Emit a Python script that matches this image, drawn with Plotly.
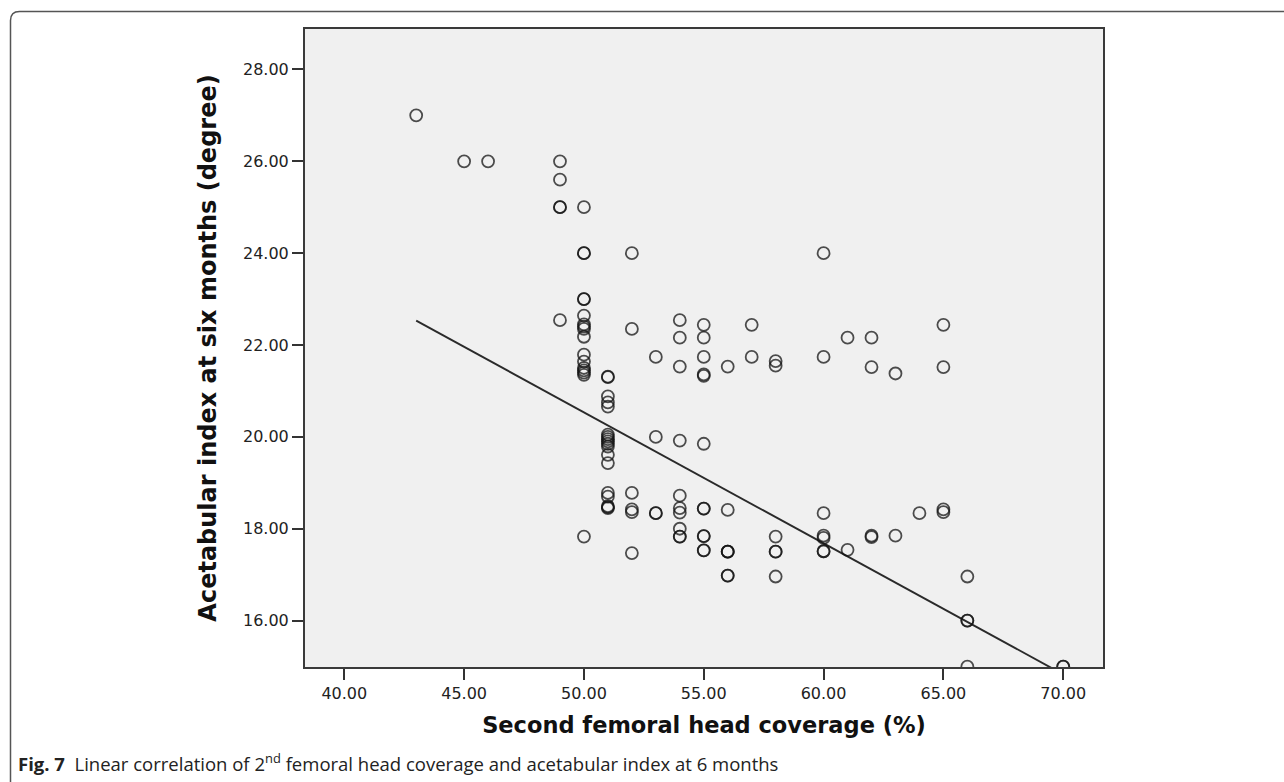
import plotly.graph_objects as go

# ---- data ----
coverage = (
    [43] + [45] + [46]
    + [49] * 5
    + [50] * 17
    + [51] * 18
    + [52] * 6
    + [53] * 4
    + [54] * 10
    + [55] * 12
    + [56] * 7
    + [57] * 2
    + [58] * 6
    + [60] * 7
    + [61] * 2
    + [62] * 4
    + [63] * 2
    + [64] * 1
    + [65] * 4
    + [66] * 4
    + [70] * 2
)
acetabular_index = (
    [27.0] + [26.0] + [26.0]
    + [26.0, 25.6, 25.0, 25.0, 22.54]
    + [25.0, 24.0, 24.0, 23.0, 23.0, 22.64, 22.45, 22.4, 22.35, 22.18,
       21.79, 21.64, 21.5, 21.45, 21.4, 21.35, 17.83]
    + [21.31, 21.3, 20.88, 20.75, 20.66, 20.05, 20.0, 19.95, 19.9, 19.85,
       19.79, 19.61, 19.43, 18.78, 18.7, 18.49, 18.47, 18.45]
    + [24.0, 22.35, 18.78, 18.42, 18.36, 17.47]
    + [21.74, 20.0, 18.34, 18.34]
    + [22.54, 22.16, 21.53, 19.92, 18.72, 18.45, 18.35, 18.0, 17.83, 17.83]
    + [22.44, 22.16, 21.74, 21.36, 21.33, 19.85, 18.44, 18.44, 17.84, 17.84, 17.53, 17.53]
    + [21.53, 18.41, 17.5, 17.5, 17.5, 16.98, 16.98]
    + [22.44, 21.74]
    + [21.65, 21.55, 17.83, 17.5, 17.5, 16.96]
    + [24.0, 21.74, 18.34, 17.85, 17.8, 17.51, 17.51]
    + [22.16, 17.54]
    + [22.16, 21.52, 17.85, 17.82]
    + [21.38, 17.85]
    + [18.34]
    + [22.44, 21.52, 18.42, 18.36]
    + [16.96, 16.0, 16.0, 15.0]
    + [15.0, 15.0]
)
fit_x = [43.0, 70.0]
fit_y = [22.53, 14.83]

x_ticks = [40, 45, 50, 55, 60, 65, 70]
x_tick_labels = ["40.00", "45.00", "50.00", "55.00", "60.00", "65.00", "70.00"]
y_ticks = [16, 18, 20, 22, 24, 26, 28]
y_tick_labels = ["16.00", "18.00", "20.00", "22.00", "24.00", "26.00", "28.00"]

x_title = "Second femoral head coverage (%)"
y_title = "Acetabular index at six months (degree)"
caption = ("<b>Fig. 7</b>  Linear correlation of 2<sup>nd</sup> femoral head coverage "
           "and acetabular index at 6 months")

# ---- figure ----
L, R, T, B = 305, 181, 29, 115
W, H = 1284, 782
pw, ph = W - L - R, H - T - B

def px_x(p):
    return (p - L) / pw

def px_y(p):
    return (H - B - p) / ph

fig = go.Figure()
fig.add_trace(go.Scatter(
    x=fit_x, y=fit_y, mode="lines",
    line=dict(color="#2a2a2a", width=1.9),
    hoverinfo="skip", showlegend=False,
))
fig.add_trace(go.Scatter(
    x=coverage, y=acetabular_index, mode="markers",
    marker=dict(symbol="circle-open", size=12,
                line=dict(width=1.8, color="rgba(20,20,20,0.75)"),
                color="rgba(20,20,20,0.75)"),
    showlegend=False,
))

axis_font = dict(family="DejaVu Sans", size=16, color="#222")

fig.update_layout(
    width=W, height=H,
    margin=dict(l=L, r=R, t=T, b=B, pad=0),
    paper_bgcolor="white",
    plot_bgcolor="#f0f0f0",
    showlegend=False,
    xaxis=dict(
        range=[38.36, 71.66], tickvals=x_ticks, ticktext=x_tick_labels,
        ticks="outside", ticklen=11, tickwidth=1.5, tickcolor="#333",
        showgrid=False, zeroline=False,
        showline=True, linecolor="#3a3a3a", linewidth=2, mirror=True,
        tickfont=axis_font,
        title=dict(text="<b>" + x_title + "</b>",
                   font=dict(family="DejaVu Sans", size=22.5, color="#111"),
                   standoff=15),
    ),
    yaxis=dict(
        range=[14.99, 28.88], tickvals=y_ticks, ticktext=y_tick_labels,
        ticks="outside", ticklen=11, tickwidth=1.5, tickcolor="#333",
        showgrid=False, zeroline=False,
        showline=True, linecolor="#3a3a3a", linewidth=2, mirror=True,
        tickfont=axis_font,
        title=dict(text="<b>" + y_title + "</b>",
                   font=dict(family="DejaVu Sans", size=24, color="#111"),
                   standoff=20),
    ),
)

# caption
fig.add_annotation(
    xref="paper", yref="paper", x=px_x(16), y=px_y(763),
    xanchor="left", yanchor="middle", showarrow=False,
    text=caption, font=dict(family="Open Sans", size=18.5, color="#222"),
)

# outer figure frame (open on right and bottom, rounded top-left corner)
x0, y0 = px_x(10.5), px_y(11.5)
xr = px_x(1284)
yb = px_y(782)
rx, ry = 9 / pw, 9 / ph
fig.add_shape(
    type="path", xref="paper", yref="paper",
    path=(f"M {x0},{yb} L {x0},{y0 - ry} Q {x0},{y0} {x0 + rx},{y0} L {xr},{y0}"),
    line=dict(color="#555", width=1.5),
)

fig.write_html("out.html")
